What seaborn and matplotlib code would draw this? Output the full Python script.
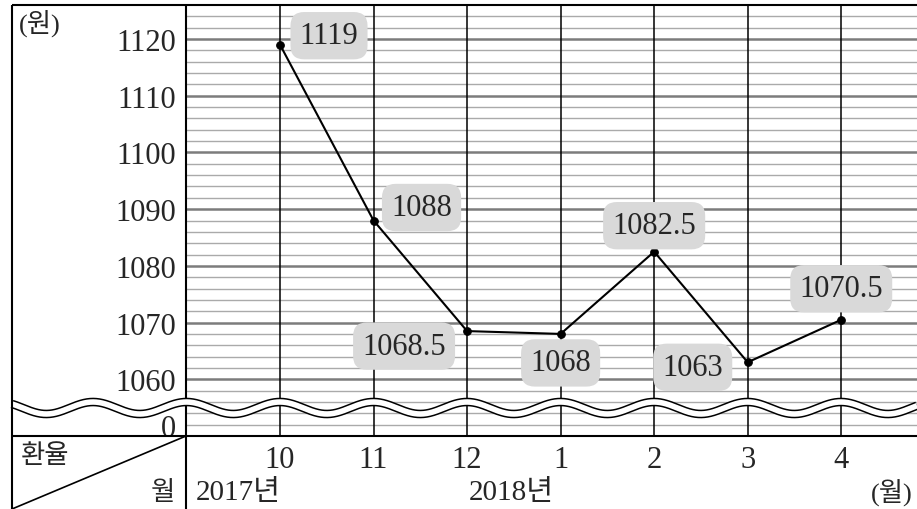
import numpy as np
import pandas as pd
import matplotlib
matplotlib.use("Agg")
import matplotlib.pyplot as plt
import seaborn as sns

# Monthly won/dollar exchange rate, Oct 2017 - Apr 2018
months = ["10", "11", "12", "1", "2", "3", "4"]
rates = [1119, 1088, 1068.5, 1068, 1082.5, 1063, 1070.5]
ytick_values = [1052, 1060, 1070, 1080, 1090, 1100, 1110, 1120]
ytick_labels = ["0", "1060", "1070", "1080", "1090", "1100", "1110", "1120"]

# label box offsets from each point, in pixels (dx right, dy down)
label_offsets = [(49, -9), (48, -13), (-63, 15), (0, 29), (0, -26), (-55, 5), (0, -31)]

sns.set_style("white")
plt.rcParams["font.family"] = ["Liberation Serif", "Noto Sans CJK KR"]

W, H = 917, 510
fig = plt.figure(figsize=(W / 100, H / 100), dpi=100)
fig.patch.set_facecolor("white")

# plotting area in pixel terms: x 186..917, y 6..437
ax = fig.add_axes([186 / W, 1 - 437 / H, (917 - 186) / W, (437 - 6) / H])
ax.set_xlim(-1.005, 6.81)
ax.set_ylim(1050, 1126)
for s in ax.spines.values():
    s.set_visible(False)

# horizontal rules every 2 won, darker every 10
for yv in np.arange(1052, 1126, 2):
    major = yv % 10 == 0
    ax.axhline(yv, color="#7c7c7c" if major else "#aaaaaa",
               lw=1.8 if major else 1.0, zorder=1)
# vertical rules at each month
for i in range(len(months)):
    ax.axvline(i, color="black", lw=1.1, zorder=2)

df = pd.DataFrame({"pos": np.arange(len(months)), "rate": rates})
sns.lineplot(data=df, x="pos", y="rate", ax=ax, color="black", lw=1.5,
             marker="o", markersize=5.5, markeredgecolor="black", zorder=4)

for i, (v, (dx, dy)) in enumerate(zip(rates, label_offsets)):
    ax.annotate(f"{v:g}", xy=(i, v), xytext=(dx * 0.72, -dy * 0.72),
                textcoords="offset points", ha="center", va="center",
                fontsize=22, zorder=5,
                bbox=dict(boxstyle="round,pad=0.3,rounding_size=0.45",
                          fc="#d9d9d9", ec="none"))

ax.set_yticks(ytick_values)
ax.set_yticklabels(ytick_labels)
ax.set_xticks(range(len(months)))
ax.set_xticklabels(months)
ax.tick_params(axis="y", length=0, pad=7.2, labelsize=22)
ax.tick_params(axis="x", length=0, pad=6.5, labelsize=22)
ax.set_xlabel("")
ax.set_ylabel("")

# overlay in pixel coordinates for frame, break mark and table text
ov = fig.add_axes([0, 0, 1, 1], zorder=10)
ov.set_xlim(0, W)
ov.set_ylim(H, 0)
ov.axis("off")
ov.patch.set_alpha(0)

lk = dict(color="black", lw=1.5, solid_capstyle="butt")
ov.plot([12, W], [6, 6], zorder=1, **lk)
ov.plot([186, 186], [6, H], zorder=1, **lk)
ov.plot([12, W], [437, 437], zorder=1, **lk)
ov.plot([186, 12], [437, H], zorder=1, color="black", lw=1.2)

# wavy break between 0 and 1060
wx = np.linspace(12, W, 3000)
wy = 409 - 6 * np.cos(2 * np.pi * (wx - 280) / 93.5)
ov.plot(wx, wy, color="black", lw=6.2, solid_capstyle="butt", zorder=2)
ov.plot(wx, wy, color="white", lw=4.0, solid_capstyle="butt", zorder=3)
ov.plot([12, 12], [6, H], zorder=4, **lk)

ov.text(40, 23, "(원)", ha="center", va="center", fontsize=19)
ov.text(21, 456, "환율", ha="left", va="center", fontsize=19)
ov.text(175, 493, "월", ha="right", va="center", fontsize=19)
ov.text(196, 493, "2017년", ha="left", va="center", fontsize=21)
ov.text(511, 493, "2018년", ha="center", va="center", fontsize=21)
ov.text(892, 493, "(월)", ha="center", va="center", fontsize=19)

fig.savefig("out.png", dpi=100)
